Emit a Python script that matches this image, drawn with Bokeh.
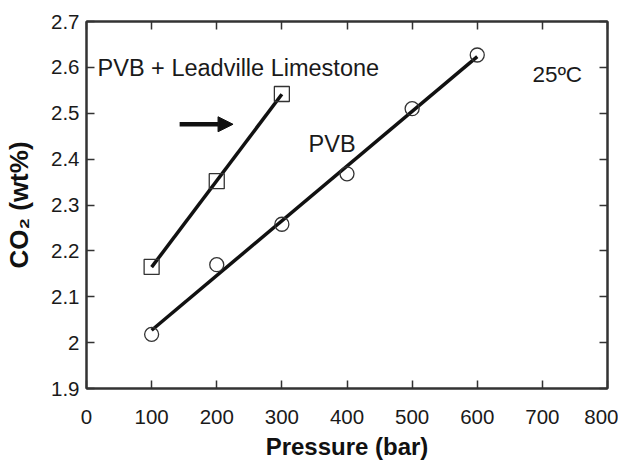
from bokeh.plotting import figure
from bokeh.models import (LinearAxis, Arrow, NormalHead, Range1d, FixedTicker, Label,
                          CustomJSTickFormatter)
from bokeh.embed import file_html
from bokeh.resources import INLINE
import numpy as np

# ---- data ----
pressure_pvb = [100, 200, 300, 400, 500, 600]
co2_pvb = [2.018, 2.170, 2.258, 2.368, 2.510, 2.627]
pressure_lime = [100, 200, 300]
co2_lime = [2.165, 2.352, 2.542]
x_ticks = [0, 100, 200, 300, 400, 500, 600, 700, 800]
y_ticks = [1.9, 2.0, 2.1, 2.2, 2.3, 2.4, 2.5, 2.6, 2.7]

FONT = "Liberation Sans"
TXT = "#1a1a1a"

p = figure(frame_width=521, frame_height=367, output_backend="svg", toolbar_location=None,
           x_range=Range1d(0, 800), y_range=Range1d(1.9, 2.7),
           min_border_left=86, min_border_right=11, min_border_top=21, min_border_bottom=20,
           x_axis_location=None, y_axis_location=None)
p.grid.visible = False
p.outline_line_color = "#333333"
p.outline_line_width = 2
p.background_fill_color = "white"
p.border_fill_color = "white"

def style_axis(ax, labels=True):
    ax.axis_line_color = "#333333"
    ax.axis_line_width = 2
    ax.major_tick_in = 8
    ax.major_tick_out = 0
    ax.major_tick_line_color = "#333333"
    ax.major_tick_line_width = 1.5
    ax.minor_tick_line_color = None
    if labels:
        ax.major_label_text_font = FONT
        ax.major_label_text_font_size = "20.5px"
        ax.major_label_text_color = TXT
        ax.axis_label_text_font = FONT
        ax.axis_label_text_font_style = "bold"
        ax.axis_label_text_color = "#111111"
    else:
        ax.formatter = CustomJSTickFormatter(code="return ''")
        ax.major_label_standoff = 0

xb = LinearAxis(ticker=FixedTicker(ticks=x_ticks), axis_label="Pressure (bar)")
style_axis(xb)
xb.axis_label_text_font_size = "24px"
xb.major_label_standoff = 21
xb.axis_label_standoff = 6
p.add_layout(xb, "below")

yl = LinearAxis(ticker=FixedTicker(ticks=y_ticks), axis_label="CO₂ (wt%)")
style_axis(yl)
yl.axis_label_text_font_size = "26px"
yl.major_label_standoff = 7
yl.axis_label_standoff = 14
yl.major_label_overrides = {2: "2"}
p.add_layout(yl, "left")

xt = LinearAxis(ticker=FixedTicker(ticks=x_ticks))
style_axis(xt, labels=False)
p.add_layout(xt, "above")

yr = LinearAxis(ticker=FixedTicker(ticks=y_ticks))
style_axis(yr, labels=False)
p.add_layout(yr, "right")

# ---- linear fits ----
for xs, ys in [(pressure_pvb, co2_pvb), (pressure_lime, co2_lime)]:
    k, b = np.polyfit(xs, ys, 1)
    fx = [min(xs), max(xs)]
    fy = [k * v + b for v in fx]
    p.line(fx, fy, line_color="#111111", line_width=3.5)

p.scatter(pressure_pvb, co2_pvb, marker="circle", size=14, fill_alpha=0,
          line_color="#333333", line_width=1.3)
p.scatter(pressure_lime, co2_lime, marker="square", size=15, fill_alpha=0,
          line_color="#333333", line_width=1.3)

# ---- annotations ----
p.add_layout(Arrow(end=NormalHead(size=15, fill_color="#111111", line_color="#111111"),
                   x_start=143, y_start=2.476, x_end=225, y_end=2.476,
                   line_width=4.5, line_color="#111111"))
p.add_layout(Label(x=17, y=2.598, text="PVB + Leadville Limestone", text_font=FONT,
                   text_font_size="23.5px", text_color=TXT, text_baseline="middle"))
p.add_layout(Label(x=341, y=2.433, text="PVB", text_font=FONT,
                   text_font_size="23.5px", text_color=TXT, text_baseline="middle"))
p.add_layout(Label(x=685, y=2.585, text="25ºC", text_font=FONT,
                   text_font_size="22.5px", text_color=TXT, text_baseline="middle"))

open("out.html", "w").write(file_html(p, INLINE))
